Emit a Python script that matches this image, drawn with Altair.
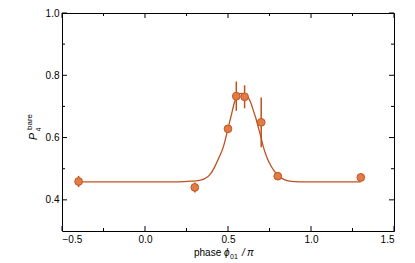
import altair as alt
import pandas as pd

# measured data
phase = [-0.4, 0.3, 0.5, 0.55, 0.6, 0.7, 0.8, 1.3]
p4 = [0.459, 0.440, 0.628, 0.733, 0.731, 0.649, 0.476, 0.472]
err = [0.018, 0.016, 0.010, 0.047, 0.037, 0.080, 0.008, 0.012]

# fit curve
fit_x = [-0.4, 0.0, 0.2, 0.28, 0.32, 0.36, 0.39, 0.42, 0.445, 0.472, 0.50, 0.52,
         0.54, 0.56, 0.578, 0.60, 0.622, 0.64, 0.652, 0.668, 0.682, 0.70, 0.713,
         0.735, 0.76, 0.785, 0.81, 0.84, 0.87, 0.93, 1.3]
fit_y = [0.458, 0.458, 0.458, 0.460, 0.462, 0.468, 0.480, 0.506, 0.535, 0.570, 0.628, 0.672,
         0.715, 0.736, 0.742, 0.739, 0.728, 0.708, 0.688, 0.662, 0.634, 0.598, 0.570,
         0.535, 0.508, 0.488, 0.474, 0.465, 0.460, 0.458, 0.458]

x_major = [-0.5, 0.0, 0.5, 1.0, 1.5]
x_minor = [-0.25, 0.25, 0.75, 1.25]
y_major = [0.4, 0.6, 0.8, 1.0]
y_minor = [0.5, 0.7, 0.9]

W, H = 332, 218
FONT = "Liberation Sans"
LINE = "#c0501c"
FILL = "#e07c48"
STROKE = "#c4561f"

pts = pd.DataFrame({"x": phase, "y": p4,
                    "lo": [a - b for a, b in zip(p4, err)],
                    "hi": [a + b for a, b in zip(p4, err)]})
fit = pd.DataFrame({"x": fit_x, "y": fit_y})

xs = alt.Scale(domain=[-0.5, 1.5], nice=False, zero=False)
ys = alt.Scale(domain=[0.3, 1.0], nice=False, zero=False)

xax = alt.Axis(values=x_major, format=".1f", ticks=False, domain=False, grid=False,
               labelPadding=3, title=None, labelFont=FONT, labelFontSize=10,
               labelColor="black")
yax = alt.Axis(values=y_major, format=".1f", ticks=False, domain=False, grid=False,
               labelPadding=3, title=None, labelFont=FONT, labelFontSize=10,
               labelColor="black")

curve = alt.Chart(fit).mark_line(color=LINE, strokeWidth=1.3, interpolate="monotone").encode(
    x=alt.X("x:Q", scale=xs, axis=xax),
    y=alt.Y("y:Q", scale=ys, axis=yax),
)
bars = alt.Chart(pts).mark_rule(color=LINE, strokeWidth=1.5).encode(
    x="x:Q", y="lo:Q", y2="hi:Q")
dots = alt.Chart(pts).mark_point(filled=True, shape="circle", size=60, fill=FILL,
                                 stroke=STROKE, strokeWidth=1, opacity=1).encode(
    x="x:Q", y="y:Q")


def xticks(vals, length):
    d = pd.DataFrame({"v": vals})
    b = alt.Chart(d).mark_rule(color="black", strokeWidth=1).encode(
        x="v:Q", y=alt.value(H), y2=alt.value(H - length))
    t = alt.Chart(d).mark_rule(color="black", strokeWidth=1).encode(
        x="v:Q", y=alt.value(0), y2=alt.value(length))
    return [b, t]


def yticks(vals, length):
    d = pd.DataFrame({"v": vals})
    l = alt.Chart(d).mark_rule(color="black", strokeWidth=1).encode(
        y="v:Q", x=alt.value(0), x2=alt.value(length))
    r = alt.Chart(d).mark_rule(color="black", strokeWidth=1).encode(
        y="v:Q", x=alt.value(W), x2=alt.value(W - length))
    return [l, r]


def label(txt, x, y, size, italic=False, angle=0):
    return alt.Chart(pd.DataFrame({"t": [txt]})).mark_text(
        font=FONT, fontSize=size, fontStyle="italic" if italic else "normal",
        align="left", baseline="alphabetic", angle=angle, color="black").encode(
        text="t:N", x=alt.value(x), y=alt.value(y))


labels = [
    label("phase", 132, 243, 10),
    label("ϕ", 162, 243, 10, italic=True),
    label("01", 168, 245.5, 7),
    label("/", 180, 243, 10, italic=True),
    label("π", 185, 243, 10, italic=True),
    label("P", -25, 127, 10.5, italic=True, angle=270),
    label("4", -21, 118.5, 7, angle=270),
    label("bare", -30, 117, 8, angle=270),
]

layers = [curve, bars, dots] + xticks(x_major, 5) + xticks(x_minor, 3) + \
    yticks(y_major, 5) + yticks(y_minor, 3) + labels

chart = alt.layer(*layers).properties(
    width=W, height=H,
    background="white",
    autosize=alt.AutoSizeParams(type="none"),
    padding={"left": 54, "top": 5, "right": 10, "bottom": 31},
).configure_view(stroke="black", strokeWidth=1)

chart.save("out.html", embed_options={"renderer": "svg", "actions": False})
